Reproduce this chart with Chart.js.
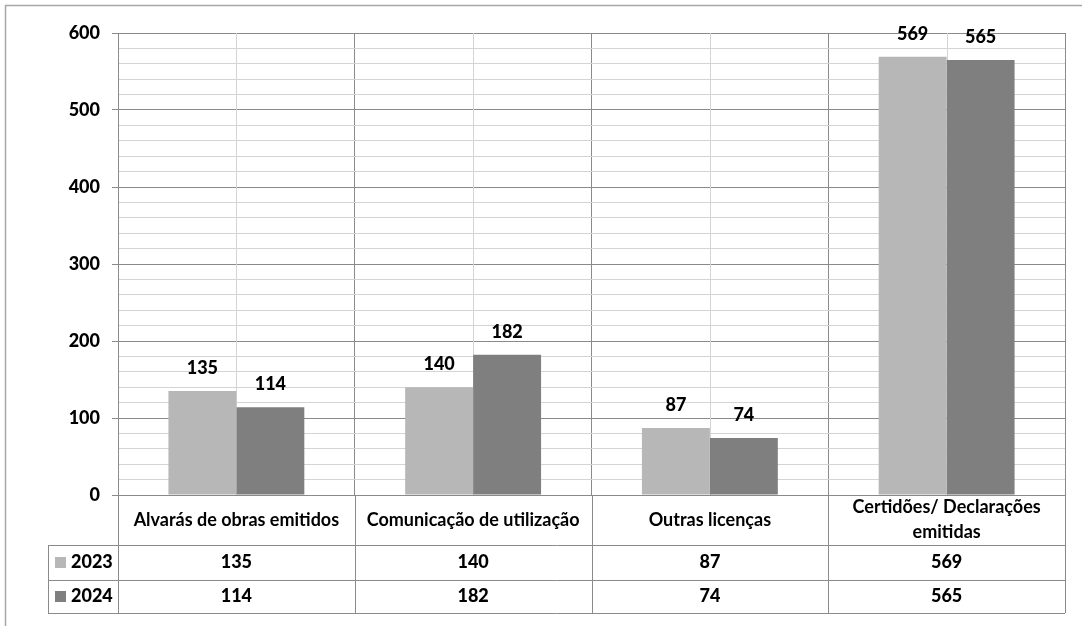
<!DOCTYPE html>
<html>
<head>
<meta charset="utf-8">
<script src="https://cdn.jsdelivr.net/npm/chart.js@4"></script>
<style>
  html, body { margin: 0; padding: 0; background: #fff; }
  #chart { display: block; }
</style>
</head>
<body>
<canvas id="chart" width="1082" height="626"></canvas>
<script>
const categories = [
  "Alvarás de obras emitidos",
  "Comunicação de utilização",
  "Outras licenças",
  ["Certidões/ Declarações", "emitidas"],
];
const seriesNames = ["2023", "2024"];
const values2023 = [135, 140, 87, 569];
const values2024 = [114, 182, 74, 565];
const seriesColors = ["#b7b7b7", "#7f7f7f"];
const yMin = 0;
const yMax = 600;
const yMajor = 100;
const yMinor = 20;

const FONT = "Lato, 'Open Sans', sans-serif";
const WEIGHT = "900";
const MAJOR_LINE = "#8a8a8a";
const MINOR_LINE = "#d4d4d4";

// outer frame + light vertical lines at category centres
const framePlugin = {
  id: "frame",
  beforeDraw(chart) {
    const ctx = chart.ctx;
    ctx.save();
    ctx.strokeStyle = "#a6a6a6";
    ctx.lineWidth = 1.5;
    ctx.beginPath();
    ctx.moveTo(5.5, chart.height);
    ctx.lineTo(5.5, 5.5);
    ctx.lineTo(chart.width, 5.5);
    ctx.stroke();
    ctx.restore();
  },
  beforeDatasetsDraw(chart) {
    const { ctx, chartArea, scales } = chart;
    ctx.save();
    ctx.strokeStyle = MINOR_LINE;
    ctx.lineWidth = 1;
    categories.forEach((c, i) => {
      const x = Math.round(scales.x.getPixelForValue(i)) + 0.5;
      ctx.beginPath();
      ctx.moveTo(x, chartArea.top);
      ctx.lineTo(x, chartArea.bottom);
      ctx.stroke();
    });
    ctx.restore();
  },
};

// value labels above bars
const valueLabels = {
  id: "valueLabels",
  afterDatasetsDraw(chart) {
    const ctx = chart.ctx;
    ctx.save();
    ctx.font = WEIGHT + " 18px " + FONT;
    ctx.fillStyle = "#000";
    ctx.textAlign = "center";
    ctx.textBaseline = "middle";
    chart.data.datasets.forEach((ds, di) => {
      chart.getDatasetMeta(di).data.forEach((bar, i) => {
        ctx.fillText(String(ds.data[i]), bar.x, bar.y - 23);
      });
    });
    ctx.restore();
  },
};

// data table under the plot
const dataTable = {
  id: "dataTable",
  afterDraw(chart) {
    const { ctx, chartArea, scales } = chart;
    const xs = scales.x;
    const bounds = [chartArea.left];
    for (let i = 0; i < categories.length - 1; i++) {
      bounds.push((xs.getPixelForValue(i) + xs.getPixelForValue(i + 1)) / 2);
    }
    bounds.push(chartArea.right);
    const y0 = chartArea.bottom;
    const rows = [y0, 545, 580, 613];
    const legendLeft = 48;
    const px = v => Math.round(v) + 0.5;

    ctx.save();
    ctx.strokeStyle = MAJOR_LINE;
    ctx.lineWidth = 1;
    ctx.beginPath();
    for (let r = 1; r < rows.length; r++) {
      ctx.moveTo(legendLeft, px(rows[r]));
      ctx.lineTo(chartArea.right, px(rows[r]));
    }
    bounds.forEach(b => {
      ctx.moveTo(px(b), y0);
      ctx.lineTo(px(b), rows[3]);
    });
    ctx.moveTo(px(legendLeft), rows[1]);
    ctx.lineTo(px(legendLeft), rows[3]);
    ctx.stroke();

    ctx.fillStyle = "#000";
    ctx.textAlign = "center";
    ctx.textBaseline = "middle";
    ctx.font = "bold 18px " + FONT;
    categories.forEach((c, i) => {
      const cx = (bounds[i] + bounds[i + 1]) / 2;
      const lines = Array.isArray(c) ? c : [c];
      const mid = (rows[0] + rows[1]) / 2;
      lines.forEach((ln, k) => {
        ctx.fillText(ln, cx, mid + (k - (lines.length - 1) / 2) * 25);
      });
    });

    ctx.font = WEIGHT + " 18px " + FONT;
    const series = [values2023, values2024];
    series.forEach((vals, s) => {
      const cy = (rows[s + 1] + rows[s + 2]) / 2;
      vals.forEach((v, i) => {
        ctx.fillText(String(v), (bounds[i] + bounds[i + 1]) / 2, cy);
      });
      ctx.fillStyle = seriesColors[s];
      ctx.fillRect(55, Math.round(cy - 6), 11, 11);
      ctx.fillStyle = "#000";
      ctx.textAlign = "left";
      ctx.fillText(seriesNames[s], 71, cy);
      ctx.textAlign = "center";
    });
    ctx.restore();
  },
};

new Chart(document.getElementById("chart"), {
  type: "bar",
  data: {
    labels: categories,
    datasets: [
      { label: seriesNames[0], data: values2023, backgroundColor: seriesColors[0] },
      { label: seriesNames[1], data: values2024, backgroundColor: seriesColors[1] },
    ],
  },
  options: {
    responsive: false,
    animation: false,
    devicePixelRatio: 1,
    layout: { padding: { left: 0, top: 33, right: 17, bottom: 131 } },
    datasets: { bar: { categoryPercentage: 0.574, barPercentage: 1.0 } },
    plugins: { legend: { display: false }, tooltip: { enabled: false } },
    scales: {
      x: {
        ticks: { display: false },
        grid: { color: MAJOR_LINE, offset: true, drawTicks: false },
        border: { color: MAJOR_LINE },
        afterFit(scale) { scale.height = 0; },
      },
      y: {
        min: yMin,
        max: yMax,
        ticks: {
          stepSize: yMinor,
          autoSkip: false,
          padding: 12,
          color: "#000",
          font: { family: FONT, size: 18, weight: WEIGHT },
          callback: v => (v % yMajor === 0 ? String(v) : ""),
        },
        grid: {
          color: c => (c.tick.value % yMajor === 0 ? MAJOR_LINE : MINOR_LINE),
          tickColor: c => (c.tick.value % yMajor === 0 ? MAJOR_LINE : "rgba(0,0,0,0)"),
          tickLength: 6,
        },
        border: { color: MAJOR_LINE },
        afterFit(scale) { scale.width = 118; },
      },
    },
  },
  plugins: [framePlugin, valueLabels, dataTable],
});
</script>
</body>
</html>
